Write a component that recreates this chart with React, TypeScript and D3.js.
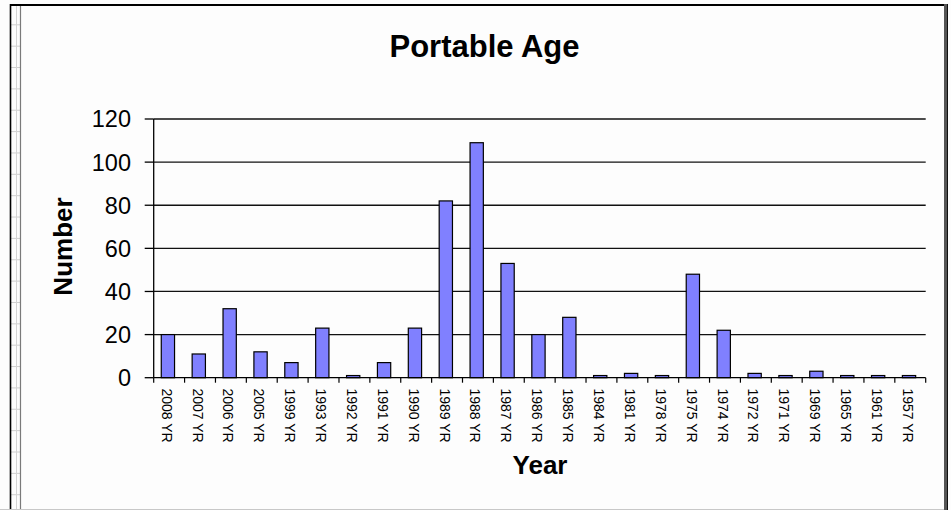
import React from "react";
import * as d3 from "d3";

const categories = ["2008 YR","2007 YR","2006 YR","2005 YR","1999 YR","1993 YR","1992 YR","1991 YR","1990 YR","1989 YR","1988 YR","1987 YR","1986 YR","1985 YR","1984 YR","1981 YR","1978 YR","1975 YR","1974 YR","1972 YR","1971 YR","1969 YR","1965 YR","1961 YR","1957 YR"];
const values = [20, 11, 32, 12, 7, 23, 1, 7, 23, 82, 109, 53, 20, 28, 1, 2, 1, 48, 22, 2, 1, 3, 1, 1, 1];
const yTicks = [0, 20, 40, 60, 80, 100, 120];
const title = "Portable Age";
const yTitle = "Number";
const xTitle = "Year";

const W = 951, H = 510;
const L = 153.7, R = 925.7, T = 119, B = 377.7;

export default function App() {
  const x = d3.scaleBand<string>().domain(categories).range([L, R]).padding(0);
  const y = d3.scaleLinear().domain([0, 120]).range([B, T]);
  const step = x.step();
  const font = "'Liberation Sans', Arial, sans-serif";
  const sheetRows = d3.range(24.8, H, 21.36);

  return (
    <svg width={W} height={H} style={{ position: "absolute", left: 0, top: 0, background: "#fdfdfd" }} fontFamily={font}>
      <rect x={0} y={0} width={W} height={H} fill="#fdfdfd" />
      {/* spreadsheet strip on the left */}
      {sheetRows.map((r, i) => (
        <line key={"sr" + i} x1={11} x2={20} y1={r} y2={r} stroke="#cfcfcf" strokeWidth={1} />
      ))}
      <line x1={16.5} x2={16.5} y1={6} y2={H} stroke="#d4d4d4" strokeWidth={1} />
      <line x1={20.5} x2={20.5} y1={6} y2={H} stroke="#7a7a7a" strokeWidth={1.2} />
      <line x1={10.5} x2={10.5} y1={4} y2={H} stroke="#000" strokeWidth={1.6} />
      <line x1={10} x2={947} y1={5} y2={5} stroke="#000" strokeWidth={2} />
      {/* right border */}
      <line x1={945.5} x2={945.5} y1={4} y2={H} stroke="#555" strokeWidth={3} />
      <line x1={947.5} x2={947.5} y1={4} y2={H} stroke="#111" strokeWidth={1} />
      <line x1={0} x2={944} y1={509.5} y2={509.5} stroke="#c8c8c8" strokeWidth={1} />

      {/* title */}
      <text x={484.5} y={57} textAnchor="middle" fontSize={31} fontWeight="bold" fill="#000">{title}</text>

      {/* gridlines */}
      {yTicks.filter(t => t > 0).map(t => (
        <line key={"g" + t} x1={L} x2={R} y1={y(t)} y2={y(t)} stroke="#111" strokeWidth={1.3} />
      ))}

      {/* bars */}
      {categories.map((c, i) => (
        <rect key={"b" + c} x={(x(c) as number) + step * 0.245} y={y(values[i])} width={step * 0.43} height={B - y(values[i])}
          fill="#8080FF" stroke="#000" strokeWidth={1.2} />
      ))}

      {/* y axis */}
      <line x1={L} x2={L} y1={T} y2={B} stroke="#000" strokeWidth={1.3} />
      {yTicks.map(t => (
        <g key={"yt" + t}>
          <line x1={L - 9} x2={L} y1={y(t)} y2={y(t)} stroke="#000" strokeWidth={1.3} />
          <text x={131} y={y(t)} dy="0.36em" textAnchor="end" fontSize={23.5} fill="#000">{t}</text>
        </g>
      ))}

      {/* x axis */}
      <line x1={L} x2={R} y1={B} y2={B} stroke="#000" strokeWidth={1.3} />
      {[...categories.map(c => x(c) as number), R].map((p, i) => (
        <line key={"xt" + i} x1={p} x2={p} y1={B} y2={B + 5} stroke="#000" strokeWidth={1.2} />
      ))}
      {categories.map(c => {
        const cx = (x(c) as number) + step / 2 - 2.4;
        const cy = 388.5;
        return (
          <text key={"xl" + c} transform={`translate(${cx},${cy}) rotate(90)`} dy="0.36em" fontSize={14} fill="#000">{c}</text>
        );
      })}

      {/* axis titles */}
      <text transform={`translate(72,246.5) rotate(-90)`} textAnchor="middle" fontSize={26} fontWeight="bold" fill="#000">{yTitle}</text>
      <text x={540} y={474} textAnchor="middle" fontSize={26} fontWeight="bold" fill="#000">{xTitle}</text>
    </svg>
  );
}
